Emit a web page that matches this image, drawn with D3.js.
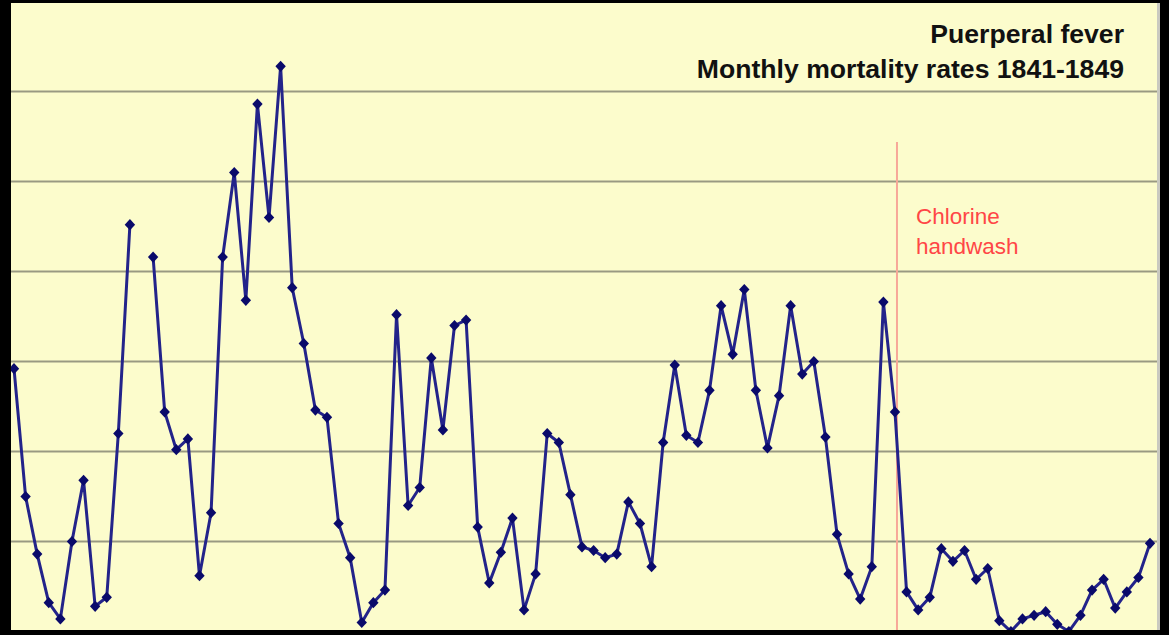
<!DOCTYPE html>
<html>
<head>
	<title>Puerperal fever</title>
</head>
<style type="text/css">
	html, body {margin:0px; padding:0px; background:#000;}
	svg {display:block;}
</style>
<body>

	<svg></svg>

<script src="https://cdn.jsdelivr.net/npm/d3@7"></script>
<script type="text/javascript">

	// monthly mortality rates (%) first clinic
	const rates1841 = [14.6, 7.5, 4.3, 1.6, 0.7, 5.0, 8.4, 1.4, 1.9, 11.0, 22.6, null];
	const rates1842 = [20.8, 12.2, 10.1, 10.7, 3.1, 6.6, 20.8, 25.5, 18.4, 29.3, 23.0, 31.4];
	const rates1843 = [19.1, 16.0, 12.3, 11.9, 6.0, 4.1, 0.5, 1.6, 2.3, 17.6, 7.0, 8.0];
	const rates1844 = [15.2, 11.2, 17.0, 17.3, 5.8, 2.7, 4.4, 6.3, 1.2, 3.2, 11.0, 10.5];
	const rates1845 = [7.6, 4.7, 4.5, 4.1, 4.3, 7.2, 6.0, 3.6, 10.5, 14.8, 10.9, 10.5];
	const rates1846 = [13.4, 18.1, 15.4, 19.0, 13.4, 10.2, 13.1, 18.1, 14.3, 15.0, 10.8, 5.4];
	const rates1847 = [3.2, 1.8, 3.6, 18.3, 12.2, 2.2, 1.2, 1.9, 4.6, 3.9, 4.5, 2.9];
	const rates1848 = [3.5, 0.6, 0.0, 0.7, 0.9, 1.1, 0.4, 0.0, 0.9, 2.3, 2.9, 1.3];
	const rates1849 = [2.2, 3.0, 4.9];

	const years = [1841, 1842, 1843, 1844, 1845, 1846, 1847, 1848, 1849];
	const gridTicks = [5, 10, 15, 20, 25, 30];
	const handwashMonth = '1847-05';
	const titleLines = ['Puerperal fever', 'Monthly mortality rates 1841-1849'];
	const noteLines = ['Chlorine', 'handwash'];

	const allRates = [rates1841, rates1842, rates1843, rates1844, rates1845,
		rates1846, rates1847, rates1848, rates1849];

	let data = [];
	allRates.forEach(function(arr, yi) {
		arr.forEach(function(v, m) {
			data.push({month: years[yi] + '-' + String(m + 1).padStart(2, '0'), value: v});
		});
	});

	const W = 1169, H = 635;
	const panel = {x: 11, y: 3, w: 1146, h: 627};

	const svg = d3.select('svg').attr('width', W).attr('height', H);

	svg.append('defs').append('clipPath').attr('id', 'clip')
		.append('rect')
		.attr('x', panel.x).attr('y', panel.y)
		.attr('width', panel.w).attr('height', panel.h);

	// panel
	svg.append('rect')
		.attr('x', panel.x).attr('y', panel.y)
		.attr('width', panel.w).attr('height', panel.h)
		.attr('fill', '#fcfccc');
	svg.append('rect')
		.attr('x', panel.x + panel.w).attr('y', panel.y)
		.attr('width', 3).attr('height', panel.h)
		.attr('fill', '#c9c9c0');

	let x = d3.scalePoint()
		.domain(data.map(function(d) { return d.month; }))
		.range([14, 1150]);

	let y = d3.scaleLinear().domain([0, 35]).range([631.5, 1.5]);

	const g = svg.append('g').attr('clip-path', 'url(#clip)');

	// gridlines
	g.selectAll('line.grid')
		.data(gridTicks)
		.enter().append('line')
		.attr('class', 'grid')
		.attr('x1', panel.x).attr('x2', panel.x + panel.w)
		.attr('y1', function(d) { return y(d); })
		.attr('y2', function(d) { return y(d); })
		.attr('stroke', '#999982')
		.attr('stroke-width', 2.2);

	// handwash marker line
	const hx = x(handwashMonth) + 2;
	g.append('line')
		.attr('x1', hx).attr('x2', hx)
		.attr('y1', 142).attr('y2', panel.y + panel.h)
		.attr('stroke', '#f7a898')
		.attr('stroke-width', 2);

	g.selectAll('text.note')
		.data(noteLines)
		.enter().append('text')
		.attr('class', 'note')
		.attr('x', hx + 19)
		.attr('y', function(d, i) { return 224 + i * 30; })
		.attr('font-family', 'Liberation Sans, Arial, sans-serif')
		.attr('font-size', 22.5)
		.attr('fill', '#ff4646')
		.text(function(d) { return d; });

	// series
	let line = d3.line()
		.defined(function(d) { return d.value !== null; })
		.x(function(d) { return x(d.month); })
		.y(function(d) { return y(d.value); });

	g.append('path')
		.datum(data)
		.attr('d', line)
		.attr('fill', 'none')
		.attr('stroke', '#23238a')
		.attr('stroke-width', 3)
		.attr('stroke-linejoin', 'round');

	g.selectAll('path.pt')
		.data(data.filter(function(d) { return d.value !== null; }))
		.enter().append('path')
		.attr('class', 'pt')
		.attr('d', 'M0,-5.6L5.2,0L0,5.6L-5.2,0Z')
		.attr('transform', function(d) { return 'translate(' + x(d.month) + ',' + y(d.value) + ')'; })
		.attr('fill', '#0a0a6a');

	// title
	svg.selectAll('text.title')
		.data(titleLines)
		.enter().append('text')
		.attr('class', 'title')
		.attr('x', 1124)
		.attr('y', function(d, i) { return 43 + i * 35; })
		.attr('text-anchor', 'end')
		.attr('font-family', 'Liberation Sans, Arial, sans-serif')
		.attr('font-weight', 'bold')
		.attr('font-size', 26.6)
		.attr('fill', '#111')
		.text(function(d) { return d; });

</script>
</body>
</html>
